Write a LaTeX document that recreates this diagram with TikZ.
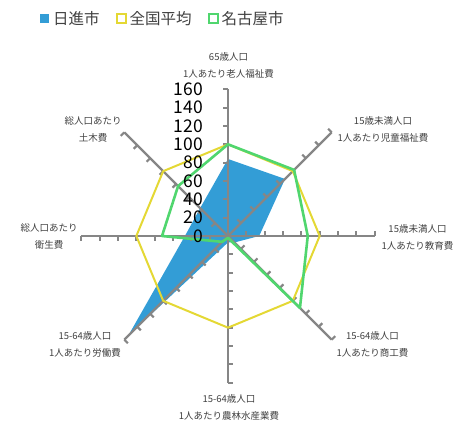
\documentclass[tikz,border=0pt]{standalone}
\usepackage{fontspec}
\setmainfont{Noto Sans CJK JP}
\usetikzlibrary{calc}
\definecolor{nblue}{RGB}{51,157,214}
\definecolor{nyellow}{RGB}{228,216,52}
\definecolor{ngreen}{RGB}{80,214,110}
\definecolor{axgray}{RGB}{134,134,134}
\definecolor{lbl}{RGB}{64,64,64}
\begin{document}
\begin{tikzpicture}[x=1pt,y=-1pt,
  axisline/.style={draw=axgray, line width=2.2pt},
  axlabel/.style={font=\fontsize{9.5}{17}\selectfont, text=lbl, align=center, inner sep=0pt},
  numlabel/.style={font=\fontsize{17.5}{20}\selectfont, text=black, anchor=east, inner sep=0pt},
  legtext/.style={font=\fontsize{15.5}{18}\selectfont, text=lbl, anchor=west, inner sep=0pt},
  legbox/.style={minimum size=9pt, inner sep=0pt, line width=2pt}]
\useasboundingbox (0,0) rectangle (463,423);
\coordinate (C) at (228,236);
\def\sc{0.9167}
% data points
\foreach \v [count=\k from 0] in {84,88,34,10,7,154,47,43}
  {\coordinate (b\k) at ($(C)+({-90+45*\k}:{\v*\sc})$);}
\foreach \v [count=\k from 0] in {100,100,100,100,100,100,100,100}
  {\coordinate (y\k) at ($(C)+({-90+45*\k}:{\v*\sc})$);}
\foreach \v [count=\k from 0] in {100,102,87,111,2,9,72,77}
  {\coordinate (g\k) at ($(C)+({-90+45*\k}:{\v*\sc})$);}
% blue filled series
\fill[nblue] (b0)--(b1)--(b2)--(b3)--(b4)--(b5)--(b6)--(b7)--cycle;
% axes with ticks
\foreach \k in {0,...,7}{
  \coordinate (e\k) at ($(C)+({-90+45*\k}:{160*\sc})$);
  \draw[axisline] (C) -- (e\k);
  \foreach \t in {1,...,8}{
    \draw[axisline] ($(C)+({-90+45*\k}:{20*\t*\sc})$) -- ++({-180+45*\k}:5);
  }
}
% line series
\draw[nyellow, line width=2pt, line join=round] (y0)--(y1)--(y2)--(y3)--(y4)--(y5)--(y6)--(y7)--cycle;
\draw[ngreen, line width=2.6pt, line join=round] (g0)--(g1)--(g2)--(g3)--(g4)--(g5)--(g6)--(g7)--cycle;
% value labels
\foreach \i/\lab in {0/0,1/20,2/40,3/60,4/80,5/100,6/120,7/140,8/160}
  {\node[numlabel] (n\i) at (203,{236-18.333*\i}) {\lab};}
% axis labels
\node[axlabel] (l0) at (228.5,65.5) {65歳人口\\1人あたり老人福祉費};
\node[axlabel] (l1) at (383,129) {15歳未満人口\\1人あたり児童福祉費};
\node[axlabel] (l2) at (417.5,237) {15歳未満人口\\1人あたり教育費};
\node[axlabel] (l3) at (372.5,344.3) {15-64歳人口\\1人あたり商工費};
\node[axlabel] (l4) at (229,407) {15-64歳人口\\1人あたり農林水産業費};
\node[axlabel] (l5) at (85,344.3) {15-64歳人口\\1人あたり労働費};
\node[axlabel] (l6) at (49,236.3) {総人口あたり\\衛生費};
\node[axlabel] (l7) at (93,129) {総人口あたり\\土木費};
% legend
\node[legbox, fill=nblue] (kb) at (44.7,18.3) {};
\node[legtext] (tb) at (53,18.3) {日進市};
\node[legbox, draw=nyellow] (ky) at (121.7,18.3) {};
\node[legtext] (ty) at (129.5,18.3) {全国平均};
\node[legbox, draw=ngreen] (kg) at (213,18.3) {};
\node[legtext] (tg) at (221.5,18.3) {名古屋市};
\end{tikzpicture}
\end{document}
